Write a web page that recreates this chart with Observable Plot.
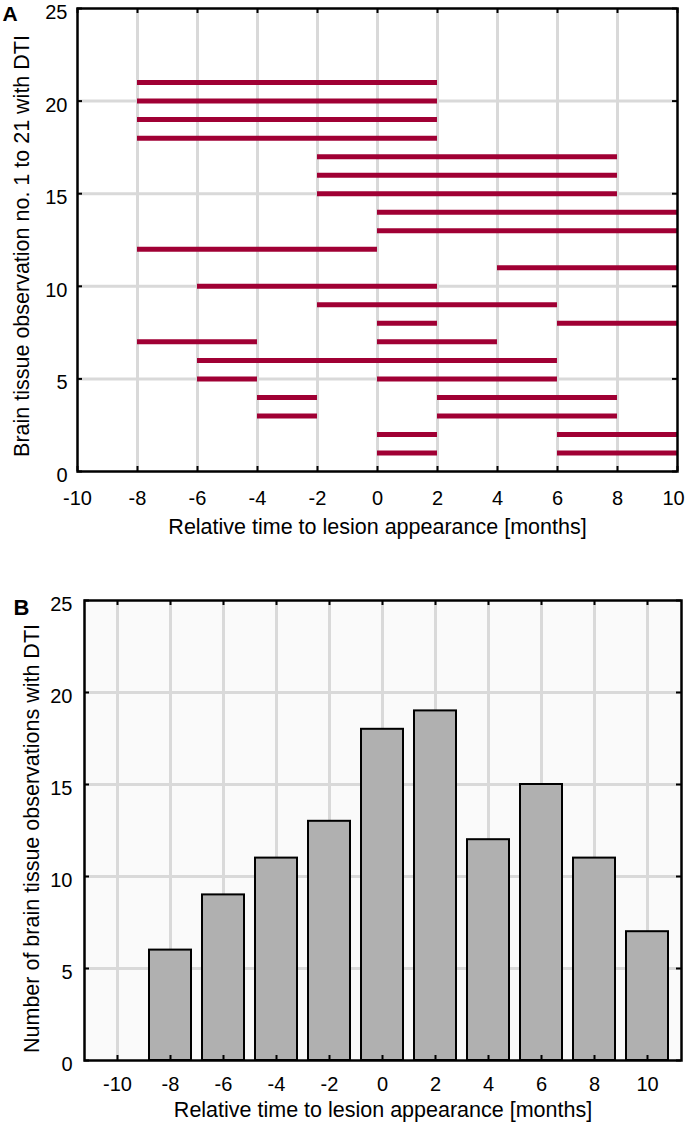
<!DOCTYPE html>
<html>
<head>
<meta charset="utf-8">
<script src="https://cdn.jsdelivr.net/npm/d3@7"></script>
<script src="https://cdn.jsdelivr.net/npm/@observablehq/plot@0.6"></script>
<style>
  body { margin: 0; background: #fff; }
  #chart { width: 685px; font-family: "Liberation Sans", Arial, sans-serif; }
  #chart svg { display: block; overflow: visible; }
</style>
</head>
<body>
<div id="chart"></div>
<script>
// ---- Panel A data: observation periods (one row per segment) ----
const segObs   = [21, 20, 19, 18, 17, 16, 15, 14, 13, 12, 11, 10, 9, 8, 8, 7, 7, 6, 5, 5, 4, 4, 3, 3, 2, 2, 1, 1];
const segStart = [-8, -8, -8, -8, -2, -2, -2, 0, 0, -8, 4, -6, -2, 0, 6, -8, 0, -6, -6, 0, -4, 2, -4, 2, 0, 6, 0, 6];
const segEnd   = [2, 2, 2, 2, 8, 8, 8, 10, 10, 0, 10, 2, 6, 2, 10, -4, 4, 6, -4, 6, -2, 8, -2, 8, 2, 10, 2, 10];

// ---- Panel B data: counts per month ----
const months = [-10, -8, -6, -4, -2, 0, 2, 4, 6, 8, 10];
const counts = [0, 6, 9, 11, 13, 18, 19, 12, 15, 11, 7];

// ---- Ticks / labels ----
const xTicks = [-10, -8, -6, -4, -2, 0, 2, 4, 6, 8, 10];
const xGridA = [-8, -6, -4, -2, 0, 2, 4, 6, 8];
const yTicks = [0, 5, 10, 15, 20, 25];
const yGrid = [5, 10, 15, 20];
const xLabel = "Relative time to lesion appearance [months]";
const yLabelA = "Brain tissue observation no. 1 to 21 with DTI";
const yLabelB = "Number of brain tissue observations with DTI";

const segments = segObs.map((o, i) => ({obs: o, start: segStart[i], end: segEnd[i]}));
const bars = months.map((m, i) => ({month: m, count: counts[i]}));

const FONT = "Liberation Sans, Arial, sans-serif";
const GRID = "#d9d9d9";
const TICK = 5;
const LABEL_SIZE = 21.5;
const TICK_SIZE = 20;

// Panel A
const wA = 685, hA = 540, mlA = 77, mrA = 8, mtA = 8, mbA = 69;
const iwA = wA - mlA - mrA, ihA = hA - mtA - mbA;
const chartA = Plot.plot({
  width: wA, height: hA,
  marginLeft: mlA, marginRight: mrA, marginTop: mtA, marginBottom: mbA,
  style: {fontFamily: FONT, fontSize: "20px", color: "#000", background: "#fff", overflow: "visible"},
  x: {domain: [-10, 10]},
  y: {domain: [0, 25]},
  marks: [
    Plot.ruleX(xGridA, {stroke: GRID, strokeWidth: 3}),
    Plot.ruleY(yGrid, {stroke: GRID, strokeWidth: 3}),
    Plot.ruleY(segments, {y: "obs", x1: "start", x2: "end", stroke: "#a00034", strokeWidth: 5}),
    Plot.ruleX(xTicks, {stroke: "#000", strokeWidth: 2, insetTop: ihA - TICK}),
    Plot.ruleX(xTicks, {stroke: "#000", strokeWidth: 2, insetBottom: ihA - TICK}),
    Plot.ruleY(yTicks, {stroke: "#000", strokeWidth: 2, insetRight: iwA - TICK}),
    Plot.ruleY(yTicks, {stroke: "#000", strokeWidth: 2, insetLeft: iwA - TICK}),
    Plot.frame({stroke: "#000", strokeWidth: 2.5}),
    Plot.axisX(xTicks.slice(0, -1), {tickSize: 0, tickPadding: 19, tickFormat: d => String(d), fontSize: TICK_SIZE, label: null}),
    Plot.axisX(xTicks.slice(-1), {tickSize: 0, tickPadding: 19, dx: -4, tickFormat: d => String(d), fontSize: TICK_SIZE, label: null}),
    Plot.axisY(yTicks, {tickSize: 0, tickPadding: 10, dy: 4, tickFormat: d => String(d), fontSize: TICK_SIZE, label: null}),
    Plot.text([xLabel], {frameAnchor: "bottom", dy: 56, fontSize: LABEL_SIZE, fill: "#000", lineAnchor: "middle", textAnchor: "middle"}),
    Plot.text([yLabelA], {frameAnchor: "left", dx: -55, dy: 6, rotate: -90, textAnchor: "middle", lineAnchor: "middle", fontSize: LABEL_SIZE, fill: "#000"}),
    Plot.text(["A"], {frameAnchor: "top-left", dx: -75, dy: 6, textAnchor: "start", lineAnchor: "middle", fontSize: 21, fontWeight: "bold", fill: "#000"})
  ]
});

// Panel B
const wB = 685, hB = 592, mlB = 84, mrB = 4, mtB = 60, mbB = 72;
const iwB = wB - mlB - mrB, ihB = hB - mtB - mbB;
const chartB = Plot.plot({
  width: wB, height: hB,
  marginLeft: mlB, marginRight: mrB, marginTop: mtB, marginBottom: mbB,
  style: {fontFamily: FONT, fontSize: "20px", color: "#000", background: "#fff", overflow: "visible"},
  x: {type: "band", domain: months, padding: 0.2},
  y: {domain: [0, 25]},
  marks: [
    Plot.frame({fill: "#fafafa"}),
    Plot.ruleX(months, {stroke: GRID, strokeWidth: 3}),
    Plot.ruleY(yGrid, {stroke: GRID, strokeWidth: 3}),
    Plot.barY(bars, {x: "month", y: "count", fill: "#b0b0b0", stroke: "#000", strokeWidth: 2}),
    Plot.ruleX(months, {stroke: "#000", strokeWidth: 2, insetTop: ihB - TICK}),
    Plot.ruleX(months, {stroke: "#000", strokeWidth: 2, insetBottom: ihB - TICK}),
    Plot.ruleY(yTicks, {stroke: "#000", strokeWidth: 2, insetRight: iwB - TICK}),
    Plot.ruleY(yTicks, {stroke: "#000", strokeWidth: 2, insetLeft: iwB - TICK}),
    Plot.frame({stroke: "#000", strokeWidth: 2.5}),
    Plot.axisX({tickSize: 0, tickPadding: 16, tickFormat: d => String(d), fontSize: TICK_SIZE, label: null}),
    Plot.axisY(yTicks, {tickSize: 0, tickPadding: 12, dy: 4, tickFormat: d => String(d), fontSize: TICK_SIZE, label: null}),
    Plot.text([xLabel], {frameAnchor: "bottom", dy: 50, fontSize: LABEL_SIZE, fill: "#000", lineAnchor: "middle", textAnchor: "middle"}),
    Plot.text([yLabelB], {frameAnchor: "left", dx: -52, dy: 8, rotate: -90, textAnchor: "middle", lineAnchor: "middle", fontSize: LABEL_SIZE, fill: "#000"}),
    Plot.text(["B"], {frameAnchor: "top-left", dx: -71, dy: 7, textAnchor: "start", lineAnchor: "middle", fontSize: 22, fontWeight: "bold", fill: "#000"})
  ]
});

const root = document.getElementById("chart");
root.appendChild(chartA);
root.appendChild(chartB);
</script>
</body>
</html>
